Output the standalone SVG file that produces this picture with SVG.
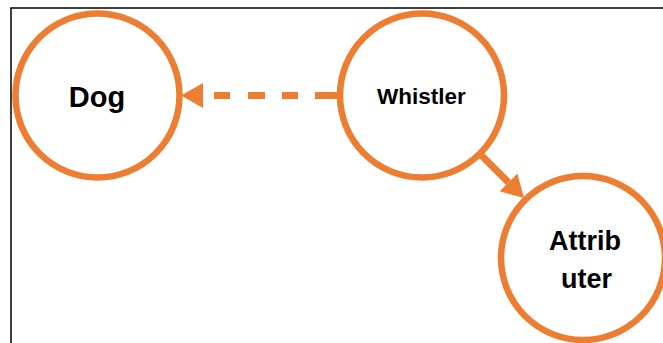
<svg xmlns="http://www.w3.org/2000/svg" width="663" height="343" viewBox="0 0 663 343">
<style>
.node{fill:#fff;stroke:#ED7D31;stroke-width:6.5}
.lbl{font-family:"Liberation Sans",Arial,sans-serif;font-weight:bold;fill:#000;text-anchor:middle}
.edge{stroke:#ED7D31;stroke-width:7;fill:none}
</style>
<defs>
<marker id="ah" markerUnits="userSpaceOnUse" markerWidth="24" markerHeight="26" refX="0" refY="12.5" orient="auto">
<path d="M0,0 L22,12.5 L0,25 Z" fill="#ED7D31"/>
</marker>
</defs>
<rect x="11" y="8" width="660" height="345" fill="#fff" stroke="#000" stroke-width="1.5"/>
<g id="connectors">
<line class="edge" x1="337" y1="95.5" x2="203" y2="95.5" stroke-dasharray="22 17 16 17 17 18 16 11" marker-end="url(#ah)"/>
<line class="edge" x1="480" y1="154" x2="508.5" y2="182.5" marker-end="url(#ah)"/>
</g>
<g id="dog">
<circle class="node" cx="97.5" cy="95.5" r="82"/>
<text class="lbl" x="97" y="107" font-size="29">Dog</text>
</g>
<g id="whistler">
<circle class="node" cx="422" cy="95.5" r="82"/>
<text class="lbl" x="421.5" y="104" font-size="22.5">Whistler</text>
</g>
<g id="attributer">
<circle class="node" cx="583" cy="258" r="82"/>
<text class="lbl" x="585" y="250" font-size="27">Attrib</text>
<text class="lbl" x="586.5" y="288" font-size="27">uter</text>
</g>
</svg>
